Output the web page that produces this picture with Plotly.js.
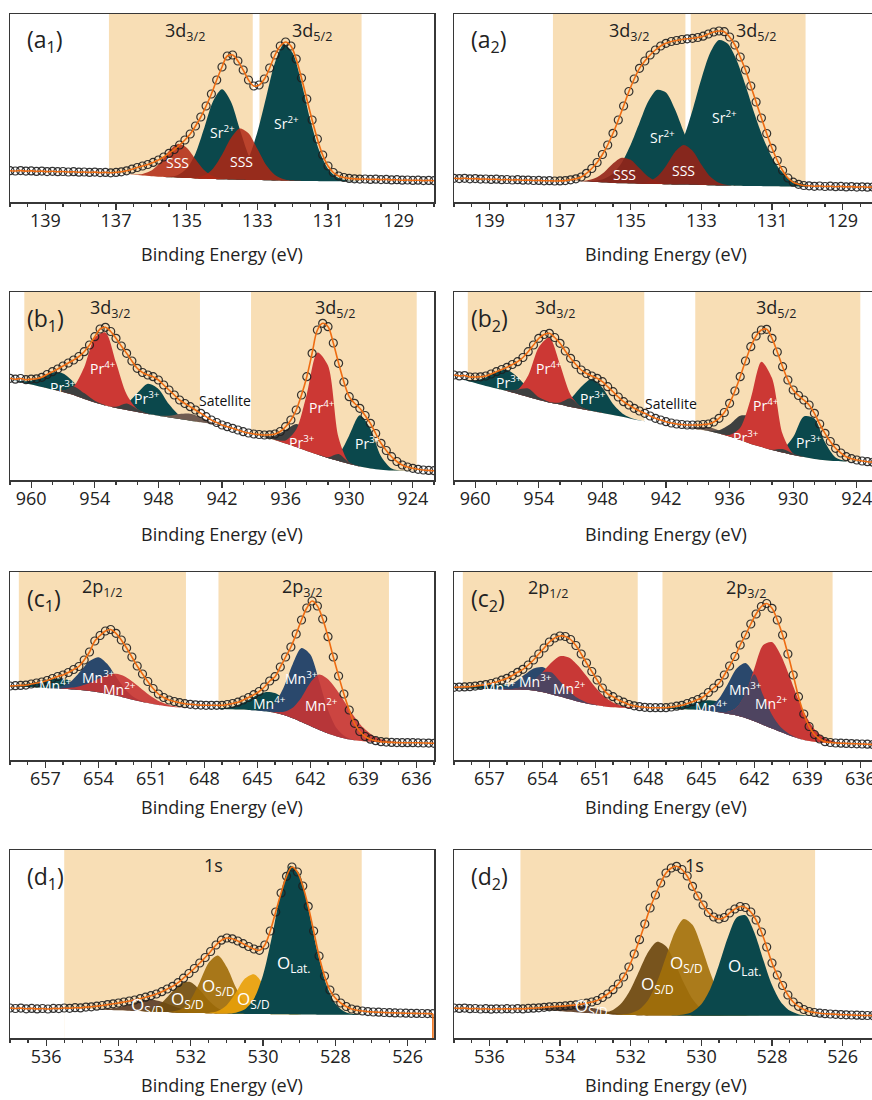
<!DOCTYPE html>
<html><head><meta charset="utf-8">
<script src="https://cdn.plot.ly/plotly-3.0.1.min.js"></script>
<style>html,body{margin:0;padding:0;overflow:hidden;background:#fff}#chart{width:880px;height:1100px}</style>
</head><body><div id="chart"></div>
<script>
// ---------- observed intensities (arb. units), uniform energy grids ----------
const a1_obs = [31.3,31.0,31.4,30.9,31.1,30.6,30.9,30.4,30.7,30.3,30.5,30.0,30.3,29.8,30.0,29.6,29.9,29.4,29.6,29.2,
29.6,30.2,31.2,32.8,34.5,36,37.5,39.6,42,45,48.7,52.5,57,62,68,76,85,96,108,122,
135,146,147,141,132,122,116,117,123,134,147,156,160,156,143,124,103,82,63,47,
36,29.5,26,24.5,23.6,23.2,22.9,23.0,22.6,22.8,22.4,22.6,22.1,22.3,21.8,22.0,21.6,21.8,21.4,21.6,21.3];
const a2_obs = [23.7,23.4,23.7,23.2,23.4,22.9,23.0,22.6,22.8,22.3,22.5,22.0,22.3,21.8,21.9,21.5,21.6,21.2,21.3,21.0,
21.1,21.4,22.2,23.2,25,28.7,33.5,39.5,47.5,57,68.7,82,96,110.5,123,133.7,141,147,152,156,
158.7,160.5,161.5,162.5,163.2,163.7,164.5,165.8,168,170,171,170.3,165,157,145,132,116,100,84,68.5,
53.7,41.5,31.5,24,19.8,17.7,16.5,16.2,15.7,16.0,15.5,15.8,15.3,15.6,15.1,15.4,14.9,15.2,14.8,15.0,14.7];
const b1_obs = [101.7,100.8,101.5,100.3,100.9,101.2,102.7,105.5,108.3,111,114,117,120,123.5,128.3,135,143.3,151,152.7,148.5,
141.7,134,126.7,119,111.7,107.5,105,103.3,100,95,90,85,80,76.5,73.3,70,66.7,63.3,60,57.5,
55,53.3,51.7,50,48.3,47,46,45.5,45,45.2,46,48.5,53.3,60,70,85,103.3,126.7,150,156.7,
153.3,137,116.7,98,83.3,76.7,71.7,64.5,56.7,46.5,36.7,29.5,23.3,18.5,15,13,11.7,10.7,10,9.6,9.3];
const b2_obs = [105,104.1,104.4,103,103,103.2,104,106,108.3,110.5,112.7,115.5,118.3,122.5,128.3,135,141.7,145.5,146.7,142.5,
136.7,129,121.7,115.5,110,106.5,104,101.7,98.3,93.3,88.3,83,78.3,75,71.7,69,66.7,64,61.7,60,
58.3,57,56,55.5,55,55,55,55.5,56,58,61.7,67.5,76.7,89,103.3,119,133.3,144,150,150.7,
141.7,128,113.3,100,90,84.5,80,75,66.7,56,46.7,38.5,31.7,27,23.3,21.3,20,19,18.3,17.8,17.3];
const c1_obs = [74,74.3,74.6,74.9,76,77,78,79.5,81.5,83.5,85,87.5,90.5,93.5,100,108,119,124.5,129,130.5,
126.7,120,112,103,94,86,78.5,71.5,66,62.5,60,58.5,57.3,56.3,55.7,55.2,54.9,54.7,54.7,54.7,
54.7,55.5,56.5,57.8,60,62.5,65.3,68.5,73,79,83.3,93,103,113,126,140,152,159,154,141,
123.3,103,84,66,50,36.7,28.5,23.5,20.8,19.3,18.3,17.9,17.6,17.4,17.3,17.3,17.3,17.2,17,16.9,16.7];
const c2_obs = [72.7,72.9,73.1,73.3,73.9,74.6,75.4,76.5,78,79.8,81.7,84.5,87.7,90.7,95,100,106,112,118,122,
124,123.5,120.5,114.5,106,97,88.5,80,72,66,63.3,60,57.8,55.5,54.2,53.3,52.7,52.3,52.3,52.3,
52.3,53,53.8,54.7,56.5,58.3,60.5,63,67.5,72,76.7,85,94,103.5,115,125,136,146,153.5,156.5,
151.7,140,125,106,85,63.3,46,33.5,25.5,21,18.3,17.5,17,16.8,16.6,16.4,16.2,16,15.8,15.5,15.3];
const d1_obs = [30,29.5,29.9,29.2,29.6,29.1,29.5,29.0,29.6,29.4,30,29.7,30.3,30.1,30.9,31.2,31.8,32.5,33.4,34.2,
35,36,37,38,39.3,40.8,42.3,44,46.3,49,51.7,55.3,59.8,64.5,69.5,75,80.5,86.5,93,97.8,
100,99.2,97,94.3,91.5,89,87.7,93,107,126,145,161.7,171,166,152,131.7,107,82,62,48,
40,35,31.5,29,27.8,27,26.4,26,25.8,25.5,25.3,25.1,25,24.8,24.7,24.6,24.5,24.4,24.3];
const d2_obs = [30,29.6,29.9,29.3,29.5,29.0,29.3,28.8,29.2,29.0,29.3,29.0,29.4,29.1,29.6,29.8,30.2,30.7,31.2,31.5,
31.7,32.1,32.6,33.1,33.8,34.8,36,37.5,40.5,44,48.3,54,61,71,84,98.3,114,130,143,155,
165,170,171.7,168.5,162,151.7,142,133,125.5,121,119,120.5,125,129,131.5,130.5,126,118,106,91,
75,63,52.5,43,36,31.7,28.5,26.5,25.5,24.8,24.3,24,23.7,23.4,23.2,23,22.8,22.6,22.5,22.4,22.3];

// ---------- fitted backgrounds (on component grids) ----------
const a1_bg = [29.5,29.2,28.3,27.3,26.5,25.8,25.2,24.7,24.3,24.0,23.6,23.3,23.0,22.7,22.5,22.3,22.1,21.9,21.7,21.5,21.3,21.1,21.0,20.9,20.8,20.7,20.7,20.7,20.8,21.0];
const a2_bg = [21.3,21.2,21.1,21.0,20.5,20.0,19.5,19.0,18.7,18.5,18.3,18.2,18.0,17.8,17.6,17.4,17.2,17.0,16.8,16.6,16.4,16.2,16.0,15.9,15.8,15.7,15.6,15.5,15.5,15.5];
const b1_bg = [100,98,95.5,93,90.5,88,85,81,77.5,74.5,72,70,68,66,64.3,62.6,61,59.3,57.7,56,53.8,51,47.8,45.3,42.8,40,36.5,33,29,25.5,22,19,16,13.5,11.5,10.2,9.4,9,8.7,8.5,8.3];
const b2_bg = [103,100,97,94,91.5,89,86,83,80,77.5,75.5,73,71,69,67,65,63,60.5,58.5,56.5,55,53.3,52,51,49,46.5,43.5,40,36,33,30,27.5,25,23,21,19.8,19,18.5,18.3,18,17.8];
const c1_bg = [73.5,73.2,72.9,72.5,72.1,71.7,71.2,70.6,70,69,67.8,66.3,64.5,62.3,60,58,56.3,54.8,53.6,52.8,52.3,52,51.7,51.4,51.1,50.8,50.5,50.1,49.6,48.7,47.2,45,41.8,38,34,30,26.5,23.5,21.3,19.7,18.7,18,17.6,17.4,17.3,17.2,17.1,17,16.9];
const c2_bg = [71.7,71.6,71.4,71.2,71,70.8,70.6,70.4,70.2,69.6,68,65.8,63.5,61,58.5,56.5,55,53.6,52.8,52.3,52,51.8,51.6,51.4,51.2,51,50.7,50.4,50,49,47.8,46.3,44.5,42,38.7,35,31.5,28,24.5,21.5,19.3,18,17.2,16.9,16.7,16.5,16.3,16.1,16];
const d1_bg = [30,29.7,29.4,29,28.6,28.1,27.7,27.3,26.9,26.5,26.2,25.9,25.6,25.3,25.1,24.9,24.7,24.5,24.4,24.2,24.1,24,23.9,23.8,23.7,23.6,23.5,23.4,23.3,23.25,23.2,23.15,23.1,23.05,23,23,23];
const d2_bg = [29.2,29,28.5,28,27.4,26.8,26.2,25.6,25,24.5,24,23.6,23.3,23,22.8,22.6,22.5,22.4,22.4,22.4,22.3,22.3,22.3,22.3,22.3,22.3,22.3,22.3,22.3,22.3,22.3,22.3,22.3,22.3,22.3,22.3];

// ---------- fitted components (height above background) ----------
const a1_sss1 = [0.3,1.5,5.6,14.4,26.4,33.8,30.3,19.2,8.5,2.7,0.6,0.1];
const a1_sr1  = [0.5,2.6,9.4,25,51,78,90,78,51,25,9.4,2.6,0.5];
const a1_sss2 = [0.1,0.8,3.4,10.6,24.5,41.2,51.2,46.7,31.3,15.3,5.6,1.5,0.3];
const a1_sr2  = [0.7,2.6,8.4,22,47.8,83,118,136.5,128,98,61,30.7,12.6,4.3,1.1,0.2];
const a2_sss1 = [0.2,1.0,3.9,10.3,19.5,25.6,23.7,15.4,7.0,2.3,0.5,0.1];
const a2_sr1  = [0.3,1.2,3.7,9.4,20.9,38.8,61,82.6,94.2,91.6,75.4,52.9,31.7,16,6.9,2.6,0.8];
const a2_sss2 = [0.4,2.1,7.4,18.3,32.2,39.5,34,20.5,8.7,2.6,0.5];
const a2_sr2  = [1.9,5.1,12.1,25.4,46.6,74.5,106,132.4,145.4,141.9,125.6,100.7,72.9,48.2,28.9,15.8,7.6,3.4,1.4];
const b1_pr3a = [0.1,0.9,3.8,10,17,18.6,13,5.9,1.7,0.3];
const b1_pr4a = [0.1,1.3,8.6,31.8,64.8,73,45.5,15.7,3,0.3];
const b1_pr3b = [0.1,1.2,6.5,18.8,30.2,26.8,13.1,3.6,0.5];
const b1_sat  = [0.3,1.7,5,7,5,1.7,0.3];
const b1_pr3c = [0.8,4.4,13.4,22.9,21.6,11.3,3.3,0.5];
const b1_pr4b = [0.3,3,17.4,56.8,102,92.4,23.3,1.4];
const b1_pr3d = [0.8,7,28.6,51.2,39.8,13.5,2,0.2];
const b2_pr3a = [0.1,0.6,2.8,8.6,16.8,21,16.8,8.6,2.8,0.6,0.1];
const b2_pr4a = [0.4,4.4,21.5,52.8,65,40,12.3,1.9,0.1];
const b2_pr3b = [0.2,1.9,8.6,22.3,32,25.2,11,2.7,0.4];
const b2_sat  = [0.4,1.9,3.9,2.9,0.8,0.1];
const b2_pr3c = [0.5,3.2,11.9,24.2,27.3,17,5.9,1.1,0.1];
const b2_pr4b = [0.1,1.6,12.2,45.5,85.2,72,18.5,1.4];
const b2_pr3d = [0.3,3.4,17.9,40.5,40.5,17.9,3.4,0.3];
const c1_mn4a = [0.7,1.6,3.3,5.6,8,9.7,9.9,8.5,6.1,3.7,1.9,0.8,0.3,0.1];
const c1_mn3a = [0.7,3,8.7,18.9,29.9,35,29.9,18.9,8.7,3,0.7,0.1];
const c1_mn2a = [0.6,1.8,4.1,8,13.4,18.6,21.7,21.3,17.6,12.3,7.2,3.5,1.5,0.5,0.1];
const c1_mn4b = [0.2,0.8,2.2,5.2,10,15.3,19.3,19.7,16.3,11,6,2.7,1,0.3];
const c1_mn3b = [0.5,2.7,10.3,28.1,54,73.9,71.4,48.9,23.6,8,1.9,0.3];
const c1_mn2b = [0.1,0.7,3.2,10.5,24.6,43.2,55.4,54.3,46.5,35.3,23.4,13.7,7,3.2,1.3,0.4];
const c2_mn4a = [0.4,0.9,1.8,3,4.2,4.9,4.8,4,2.8,1.6,0.8,0.3,0.1];
const c2_mn3a = [0.3,1.1,3.4,8.1,15.2,22,25,22,15.2,8.1,3.4,1.1,0.3];
const c2_mn2a = [0.3,1.2,3.8,9.7,19.5,31.5,40.3,41.5,36.3,27.5,17.8,10,4.8,2,0.7,0.2];
const c2_mn4b = [0.2,0.6,1.5,3.3,6.1,9,10.8,10.6,8.4,5.5,2.9,1.2,0.4,0.1];
const c2_mn3b = [1.2,4.7,13.7,29.7,47,55,47,29.7,13.7,4.7,1.2,0.2];
const c2_mn2b = [0.3,1.9,8.1,24.6,52.8,80,86.4,76.7,58.8,38.8,22.3,10.9,4.6,1.7,0.5];
const d1_osd1 = [0.1,0.5,1.3,3.1,6,9.2,11.6,11.8,9.8,6.6,3.6,1.6,0.6,0.2];
const d1_osd2 = [0.2,1.2,4.3,11.2,21.2,29.8,30.7,23.2,12.9,5.3,1.6,0.3];
const d1_osd3 = [0.1,0.9,4,13.5,31,50.7,58,46.4,26.2,10.3,2.9,0.6];
const d1_osd4 = [0.4,2.4,8.6,21.2,35.3,39.7,30.2,15.4,5.4,1.3,0.2];
const d1_olat = [0.2,1.1,4.6,15.2,39,78.3,122.3,148.5,141.2,106.4,63.6,30.2,11.4,3.4,0.8,0.1];
const d2_osd1 = [0.1,0.3,0.8,1.7,3.2,5,6.4,7,6.4,5,3.2,1.7,0.8,0.3,0.1];
const d2_osd2 = [0.3,1.4,4.5,11.9,25.8,44.9,63.6,73.7,69.3,52.9,33,16.6,6.8,2.3,0.6];
const d2_osd3 = [0.5,1.8,5.9,15.6,33.9,58.9,83.4,96.6,90.9,69.4,43.3,21.7,8.9,3,0.8,0.2];
const d2_olat = [0.3,1.1,4,11.4,26.5,50.9,78.1,98.3,100.4,83.1,56.3,30.7,13.8,5.1,1.5,0.4,0.1];

// ---------- styles ----------
const FONT = 'Open Sans, Noto Sans, DejaVu Sans, sans-serif';
const TAN = 'rgb(248,222,181)', TEAL = 'rgb(11,72,76)', AX = 'rgb(55,55,55)';
const RED_A1 = 'rgba(176,40,20,0.85)', RED_A2 = 'rgba(148,36,24,0.9)';
const PR_RED = 'rgb(204,56,52)', GRAY = 'rgb(62,64,64)', SAT = 'rgb(112,92,82)';
const MN_BLUE = 'rgb(42,72,108)', MN_RED = 'rgba(198,52,52,0.9)', MN_OV = 'rgb(78,68,96)';
const ENV = 'rgb(238,108,18)';

const SSD = 'O<sub>S/D</sub>', OLAT = 'O<sub>Lat.</sub>';
const panels = [
 {k:1, col:0, row:0, range:[140,128], tick0:129, dtick:2, mdtick:0.5, obs:a1_obs, oStart:140, oStep:0.15,
  gStart:137.25, gStep:0.25, bg:a1_bg,
  comps:[{from:135.5,h:a1_sr1,c:TEAL},{from:134.0,h:a1_sr2,c:TEAL},{from:136.5,h:a1_sss1,c:RED_A1},{from:135.0,h:a1_sss2,c:RED_A1}], ov:[],
  bands:[[137.2,133.13],[132.94,130.05]], label:'(a<sub>1</sub>)',
  notes:[['3d<sub>3/2</sub>',135.05,170,'h'],['3d<sub>5/2</sub>',131.45,170,'h'],['Sr<sup>2+</sup>',134.0,70,'w'],['Sr<sup>2+</sup>',132.17,79,'w'],['SSS',135.25,39,'w'],['SSS',133.44,40,'w']]},
 {k:2, col:1, row:0, range:[140,128], tick0:129, dtick:2, mdtick:0.5, obs:a2_obs, oStart:140, oStep:0.15,
  gStart:137.25, gStep:0.25, bg:a2_bg,
  comps:[{from:136.25,h:a2_sr1,c:TEAL},{from:134.5,h:a2_sr2,c:TEAL},{from:136.5,h:a2_sss1,c:RED_A2},{from:134.75,h:a2_sss2,c:RED_A2}], ov:[],
  bands:[[137.2,133.45],[133.3,130.05]], label:'(a<sub>2</sub>)',
  notes:[['3d<sub>3/2</sub>',135.05,170,'h'],['3d<sub>5/2</sub>',131.45,170,'h'],['Sr<sup>2+</sup>',134.1,65,'w'],['Sr<sup>2+</sup>',132.35,85,'w'],['SSS',135.18,27,'w'],['SSS',133.5,31,'w']]},
 {k:3, col:0, row:1, range:[962,922], tick0:924, dtick:6, mdtick:2, obs:b1_obs, oStart:962, oStep:0.5,
  gStart:962, gStep:1, bg:b1_bg,
  comps:[{from:962,h:b1_pr3a,c:TEAL},{from:953,h:b1_pr3b,c:TEAL},{from:948,h:b1_sat,c:SAT},{from:938,h:b1_pr3c,c:GRAY},{from:932,h:b1_pr3d,c:TEAL},{from:958,h:b1_pr4a,c:PR_RED},{from:937,h:b1_pr4b,c:PR_RED}],
  ov:[[0,5,GRAY],[5,1,GRAY],[6,4,GRAY]],
  bands:[[960.65,944.08],[939.26,923.63]], label:'(b<sub>1</sub>)',
  notes:[['3d<sub>3/2</sub>',952.6,172,'h'],['3d<sub>5/2</sub>',931.3,172,'h'],['Pr<sup>3+</sup>',956.97,93,'w'],['Pr<sup>4+</sup>',953.2,111.7,'w'],['Pr<sup>3+</sup>',949.1,81.7,'w'],['Satellite',941.7,80,'k'],['Pr<sup>4+</sup>',932.6,73.3,'w'],['Pr<sup>3+</sup>',934.5,38.3,'w'],['Pr<sup>3+</sup>',928.2,36.7,'w']]},
 {k:4, col:1, row:1, range:[962,922], tick0:924, dtick:6, mdtick:2, obs:b2_obs, oStart:962, oStep:0.5,
  gStart:962, gStep:1, bg:b2_bg,
  comps:[{from:962,h:b2_pr3a,c:TEAL},{from:953,h:b2_pr3b,c:TEAL},{from:940,h:b2_sat,c:SAT},{from:938,h:b2_pr3c,c:GRAY},{from:932,h:b2_pr3d,c:TEAL},{from:957,h:b2_pr4a,c:PR_RED},{from:937,h:b2_pr4b,c:PR_RED}],
  ov:[[0,5,GRAY],[5,1,GRAY],[6,4,GRAY]],
  bands:[[960.7,944.05],[939.24,923.67]], label:'(b<sub>2</sub>)',
  notes:[['3d<sub>3/2</sub>',952.5,172,'h'],['3d<sub>5/2</sub>',931.6,172,'h'],['Pr<sup>3+</sup>',956.8,98.3,'w'],['Pr<sup>4+</sup>',953.0,111.7,'w'],['Pr<sup>3+</sup>',948.9,81.7,'w'],['Satellite',941.5,76.7,'k'],['Pr<sup>4+</sup>',932.6,75,'w'],['Pr<sup>3+</sup>',934.5,43.3,'w'],['Pr<sup>3+</sup>',928.5,38.3,'w']]},
 {k:5, col:0, row:2, range:[659,635], tick0:636, dtick:3, mdtick:1, obs:c1_obs, oStart:659, oStep:0.3,
  gStart:659, gStep:0.5, bg:c1_bg,
  comps:[{from:659,h:c1_mn4a,c:TEAL},{from:647.5,h:c1_mn4b,c:TEAL},{from:656.5,h:c1_mn3a,c:MN_BLUE},{from:645,h:c1_mn3b,c:MN_BLUE},{from:656,h:c1_mn2a,c:MN_RED},{from:644.5,h:c1_mn2b,c:MN_RED}], ov:[],
  bands:[[658.5,649.04],[647.2,637.55]], label:'(c<sub>1</sub>)',
  notes:[['2p<sub>1/2</sub>',653.8,173,'h'],['2p<sub>3/2</sub>',642.5,173,'h'],['Mn<sup>4+</sup>',656.45,75,'w'],['Mn<sup>3+</sup>',654.0,83.3,'w'],['Mn<sup>2+</sup>',652.8,70.7,'w'],['Mn<sup>4+</sup>',644.3,57.3,'w'],['Mn<sup>3+</sup>',642.5,81.7,'w'],['Mn<sup>2+</sup>',641.35,55,'w']]},
 {k:6, col:1, row:2, range:[659,635], tick0:636, dtick:3, mdtick:1, obs:c2_obs, oStart:659, oStep:0.3,
  gStart:659, gStep:0.5, bg:c2_bg,
  comps:[{from:659,h:c2_mn4a,c:TEAL},{from:647.5,h:c2_mn4b,c:TEAL},{from:657,h:c2_mn3a,c:MN_BLUE},{from:645,h:c2_mn3b,c:MN_BLUE},{from:656,h:c2_mn2a,c:'rgb(200,56,54)'},{from:644,h:c2_mn2b,c:'rgb(200,56,54)'}],
  ov:[[2,4,MN_OV],[3,5,MN_OV]],
  bands:[[658.5,648.6],[647.2,637.57]], label:'(c<sub>2</sub>)',
  notes:[['2p<sub>1/2</sub>',653.7,172,'h'],['2p<sub>3/2</sub>',642.5,172,'h'],['Mn<sup>4+</sup>',656.4,73.3,'w'],['Mn<sup>3+</sup>',654.4,79,'w'],['Mn<sup>2+</sup>',652.45,72.5,'w'],['Mn<sup>4+</sup>',644.45,53.3,'w'],['Mn<sup>3+</sup>',642.5,70.7,'w'],['Mn<sup>2+</sup>',641.05,57.3,'w']]},
 {k:7, col:0, row:3, range:[537,525.27], tick0:526, dtick:2, mdtick:0.5, obs:d1_obs, oStart:537, oStep:0.15,
  gStart:535.5, gStep:0.25, bg:d1_bg, tailDrop:true,
  comps:[{from:534.75,h:d1_osd1,c:'rgba(92,62,42,0.92)'},{from:533.5,h:d1_osd2,c:'rgba(112,76,14,0.9)'},{from:532.75,h:d1_osd3,c:'rgba(158,108,8,0.9)'},{from:531.5,h:d1_osd4,c:'rgba(232,160,8,0.9)'},{from:531,h:d1_olat,c:TEAL}], ov:[],
  bands:[[535.5,527.27]], label:'(d<sub>1</sub>)',
  notes:[['1s',531.38,173,'h'],[SSD,533.2,33,'o'],[SSD,532.1,38.3,'o'],[SSD,531.24,51.7,'o'],[SSD,530.27,38.3,'o'],[OLAT,529.17,75,'o']]},
 {k:8, col:1, row:3, range:[537,525], tick0:526, dtick:2, mdtick:0.5, obs:d2_obs, oStart:537, oStep:0.15,
  gStart:535.25, gStep:0.25, bg:d2_bg,
  comps:[{from:535.25,h:d2_osd1,c:'rgba(92,62,42,0.92)'},{from:533,h:d2_osd2,c:'rgba(108,72,16,0.92)'},{from:532.25,h:d2_osd3,c:'rgba(162,112,10,0.9)'},{from:530.75,h:d2_olat,c:TEAL}], ov:[],
  bands:[[535.12,526.78]], label:'(d<sub>2</sub>)',
  notes:[['1s',530.2,173,'h'],[SSD,533.1,31.7,'o'],[SSD,531.24,53.3,'o'],[SSD,530.43,75,'o'],[OLAT,528.78,71.7,'o']]}
];

// ---------- geometry ----------
const W = 880, H = 1100;
const colX = [[10,434],[454,878]];
const rowY = [[14,202],[292,480],[572,760],[850,1038]];
const titleGap = [52, 54, 47, 47];
const YMAX = 188;

const traces = [], shapes = [], annotations = [];
const layout = {width:W, height:H, margin:{l:0,r:0,t:0,b:0}, paper_bgcolor:'#fff', plot_bgcolor:'#fff',
  showlegend:false, font:{family:FONT, color:'#222'}, hovermode:false};

const noteStyle = {
  h:{size:18, color:'#222'}, w:{size:14, color:'#fff'}, k:{size:14, color:'#111'}, o:{size:17, color:'#fff'}
};

panels.forEach(p => {
  const sfx = p.k === 1 ? '' : String(p.k);
  const xa = 'x' + sfx, ya = 'y' + sfx;
  const [x0p, x1p] = colX[p.col], [y0p, y1p] = rowY[p.row];
  layout['xaxis' + sfx] = {domain:[x0p/W, x1p/W], range:p.range, anchor:ya, tick0:p.tick0, dtick:p.dtick,
    ticks:'outside', ticklen:6, tickwidth:1.3, tickcolor:AX, showline:true, linecolor:AX, linewidth:1.5, mirror:true,
    showgrid:false, zeroline:false, tickfont:{family:FONT, size:18, color:'#222'}, ticklabelstandoff:-4,
    minor:{ticks:'outside', ticklen:3.5, tickwidth:1.2, tickcolor:AX, dtick:p.mdtick, tick0:p.tick0, showgrid:false}};
  layout['yaxis' + sfx] = {domain:[(H - y1p)/H, (H - y0p)/H], range:[0, YMAX], anchor:xa, showline:true, linecolor:AX,
    linewidth:1.5, mirror:true, showgrid:false, zeroline:false, showticklabels:false, ticks:''};

  p.bands.forEach(b => shapes.push({type:'rect', xref:xa, yref:ya + ' domain', x0:b[0], x1:b[1], y0:0, y1:1,
    fillcolor:TAN, line:{width:0}, layer:'below'}));

  const n = p.bg.length;
  const gx = []; for (let i = 0; i < n; i++) gx.push(+(p.gStart - i * p.gStep).toFixed(3));
  // white area under the background
  traces.push({type:'scatter', mode:'lines', x:gx.concat(gx.slice().reverse()), y:p.bg.concat(gx.map(() => -2)),
    fill:'toself', fillcolor:'#fff', line:{width:0}, xaxis:xa, yaxis:ya, hoverinfo:'skip'});

  const full = c => { const a = new Array(n).fill(0); const i0 = Math.round((p.gStart - c.from) / p.gStep);
    c.h.forEach((v, j) => { if (i0 + j >= 0 && i0 + j < n) a[i0 + j] = v; }); return a; };
  const poly = (h, color) => {
    let first = h.findIndex(v => v > 0); let last = n - 1 - h.slice().reverse().findIndex(v => v > 0);
    if (first < 0) return;
    first = Math.max(0, first - 1); last = Math.min(n - 1, last + 1);
    const xs = gx.slice(first, last + 1);
    const top = xs.map((_, j) => p.bg[first + j] + h[first + j]);
    const bot = xs.map((_, j) => p.bg[first + j]).reverse();
    traces.push({type:'scatter', mode:'lines', x:xs.concat(xs.slice().reverse()), y:top.concat(bot),
      fill:'toself', fillcolor:color, line:{width:0, shape:'spline', smoothing:0.8}, xaxis:xa, yaxis:ya, hoverinfo:'skip'});
  };
  const fulls = p.comps.map(full);
  p.comps.forEach((c, i) => poly(fulls[i], c.c));
  p.ov.forEach(o => poly(fulls[o[0]].map((v, i) => Math.min(v, fulls[o[1]][i])), o[2]));

  const ox = p.obs.map((_, i) => +(p.oStart - i * p.oStep).toFixed(3));
  traces.push({type:'scatter', mode:'markers', x:ox, y:p.obs, xaxis:xa, yaxis:ya, hoverinfo:'skip',
    marker:{symbol:'circle-open', size:8, color:'rgba(30,30,30,0.9)', line:{width:1.2}}});
  traces.push({type:'scatter', mode:'lines', x:ox, y:p.obs, xaxis:xa, yaxis:ya, hoverinfo:'skip',
    line:{color:ENV, width:1.6, shape:'spline', smoothing:1}});
  if (p.tailDrop) {
    const xl = ox[ox.length - 1];
    traces.push({type:'scatter', mode:'lines', x:[xl, xl], y:[p.obs[p.obs.length - 1], 0], xaxis:xa, yaxis:ya,
      hoverinfo:'skip', line:{color:ENV, width:1.6}});
  }

  p.notes.forEach(nt => annotations.push({xref:xa, yref:ya, x:nt[1], y:nt[2], text:nt[0], showarrow:false,
    font:Object.assign({family:FONT}, noteStyle[nt[3]])}));
  annotations.push({xref:xa + ' domain', yref:ya + ' domain', x:15/424, y:1 - 27/YMAX, xanchor:'left', yanchor:'middle',
    text:p.label, showarrow:false, font:{family:FONT, size:23, color:'#222'}});
  annotations.push({xref:xa + ' domain', yref:ya + ' domain', x:0.5, y:-titleGap[p.row]/YMAX, xanchor:'center', yanchor:'middle',
    text:'Binding Energy (eV)', showarrow:false, font:{family:FONT, size:18, color:'#222'}});
});
layout.shapes = shapes;
layout.annotations = annotations;
Plotly.newPlot('chart', traces, layout, {staticPlot:true, displayModeBar:false});
</script>
</body></html>
